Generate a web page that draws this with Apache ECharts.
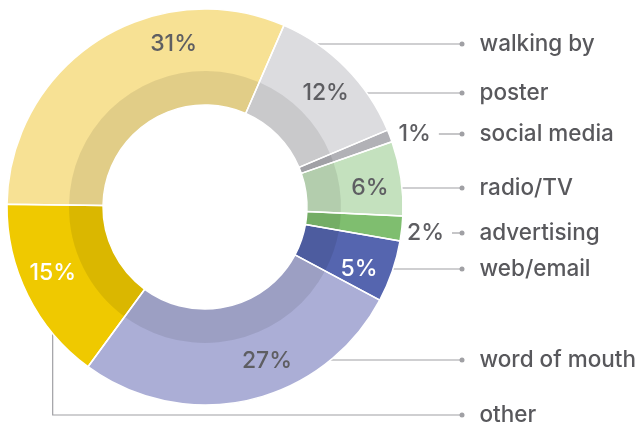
<!DOCTYPE html>
<html>
<head>
<meta charset="utf-8">
<script src="https://cdn.jsdelivr.net/npm/echarts@6/dist/echarts.min.js"></script>
<style>
html, body { margin: 0; padding: 0; background: #fff; }
#chart { width: 642px; height: 425px; }
</style>
</head>
<body>
<div id="chart"></div>
<script>
// slices, clockwise from the top
var names = ['poster', 'social media', 'radio/TV', 'advertising', 'web/email', 'word of mouth', 'other', 'walking by'];
var values = [12, 1, 6, 2, 5, 27, 15, 31];
var colors = ['#dcdcdf', '#b1b1b6', '#c4e1be', '#7fbe6f', '#5565af', '#abaed6', '#efc900', '#f7e194'];
var inkColors = ['#5e5e62', '#5e5e62', '#5e5e62', '#5e5e62', '#ffffff', '#5e5e62', '#ffffff', '#5e5e62'];

// label rows (layout only)
var rowY = [93, 134, 188, 233, 269, 361, 273, 44];
var nameY = [93, 134, 188, 233, 269, 360, 415, 44];

var FONT = 'Inter, "Liberation Sans", sans-serif';
var cx = 205, cy = 207, r0 = 102, r1 = 198, band = 136;
var pctR = 166, outR = 222, dotX = 462, firstAngle = 23.5;

var total = 0;
values.forEach(function (v) { total += v; });

// which side of the ring each slice lies on
function side(i) {
  var cum = 0;
  for (var k = 0; k < i; k++) cum += values[k];
  var a = firstAngle + (cum + values[i] / 2) / total * 360;
  return Math.sin(a * Math.PI / 180) >= 0 ? 1 : -1;
}

// percent label sits on its row, on a circle inside (or outside for thin slices)
function pctPos(i) {
  var r = values[i] < 3 ? outR : pctR;
  var dy = rowY[i] - cy;
  var dx = Math.sqrt(Math.max(r * r - dy * dy, 0)) * side(i);
  return [cx + dx, rowY[i]];
}

var ctx = document.createElement('canvas').getContext('2d');
ctx.font = '500 23px ' + FONT;
function pctWidth(i) {
  return ctx.measureText(values[i] + '%').width;
}

var pieData = names.map(function (n, i) {
  return { name: n, value: values[i], itemStyle: { color: colors[i] }, label: { color: inkColors[i] } };
});
var plainData = names.map(function (n, i) {
  return { name: n, value: values[i] };
});

var chart = echarts.init(document.getElementById('chart'));
var option = {
  animation: false,
  series: [{
    type: 'pie',
    center: [cx, cy],
    radius: [r0, r1],
    startAngle: 90 - firstAngle,
    clockwise: true,
    avoidLabelOverlap: false,
    emphasis: { disabled: true },
    itemStyle: { borderWidth: 0 },
    label: {
      show: true,
      position: 'inside',
      formatter: '{c}%',
      fontFamily: FONT,
      fontWeight: 500,
      fontSize: 23
    },
    labelLine: { show: false },
    labelLayout: function (p) {
      var pos = pctPos(p.dataIndex);
      return { x: pos[0], y: pos[1], align: 'center', verticalAlign: 'middle' };
    },
    data: pieData
  }, {
    // darker inner band
    type: 'pie',
    center: [cx, cy],
    radius: [r0, band],
    startAngle: 90 - firstAngle,
    clockwise: true,
    silent: true,
    emphasis: { disabled: true },
    itemStyle: { color: 'rgba(0,0,0,0.085)', borderWidth: 0 },
    label: { show: false },
    labelLine: { show: false },
    data: plainData
  }, {
    // white separators, names with leader lines
    type: 'pie',
    center: [cx, cy],
    radius: [r0, r1],
    startAngle: 90 - firstAngle,
    clockwise: true,
    silent: true,
    avoidLabelOverlap: false,
    emphasis: { disabled: true },
    itemStyle: { color: 'rgba(0,0,0,0)', borderColor: '#fff', borderWidth: 1.5 },
    label: {
      show: true,
      position: 'outside',
      formatter: function (p) { return '{dot|}{txt|' + p.name + '}'; },
      rich: {
        dot: { width: 5, height: 5, borderRadius: 2.5, backgroundColor: '#a0a0a4', verticalAlign: 'middle' },
        txt: { fontFamily: FONT, fontWeight: 500, fontSize: 22.5, color: '#58585c', padding: [0, 0, 0, 15], verticalAlign: 'middle' }
      }
    },
    labelLine: { show: true, length: 5, length2: 5, lineStyle: { color: '#a0a0a4', width: 1.2 } },
    labelLayout: function (p) {
      var i = p.dataIndex;
      var pos = pctPos(i);
      var pts;
      if (nameY[i] !== rowY[i]) {
        pts = [[pos[0], rowY[i] + 23], [pos[0], nameY[i]], [dotX, nameY[i]]];
      } else {
        var s = pos[0] + pctWidth(i) / 2 + 8;
        pts = [[s, rowY[i]], [s + 1, rowY[i]], [dotX, rowY[i]]];
      }
      return { x: dotX - 2.5, y: nameY[i], align: 'left', verticalAlign: 'middle', labelLinePoints: pts };
    },
    data: plainData
  }]
};
chart.setOption(option);
</script>
</body>
</html>
